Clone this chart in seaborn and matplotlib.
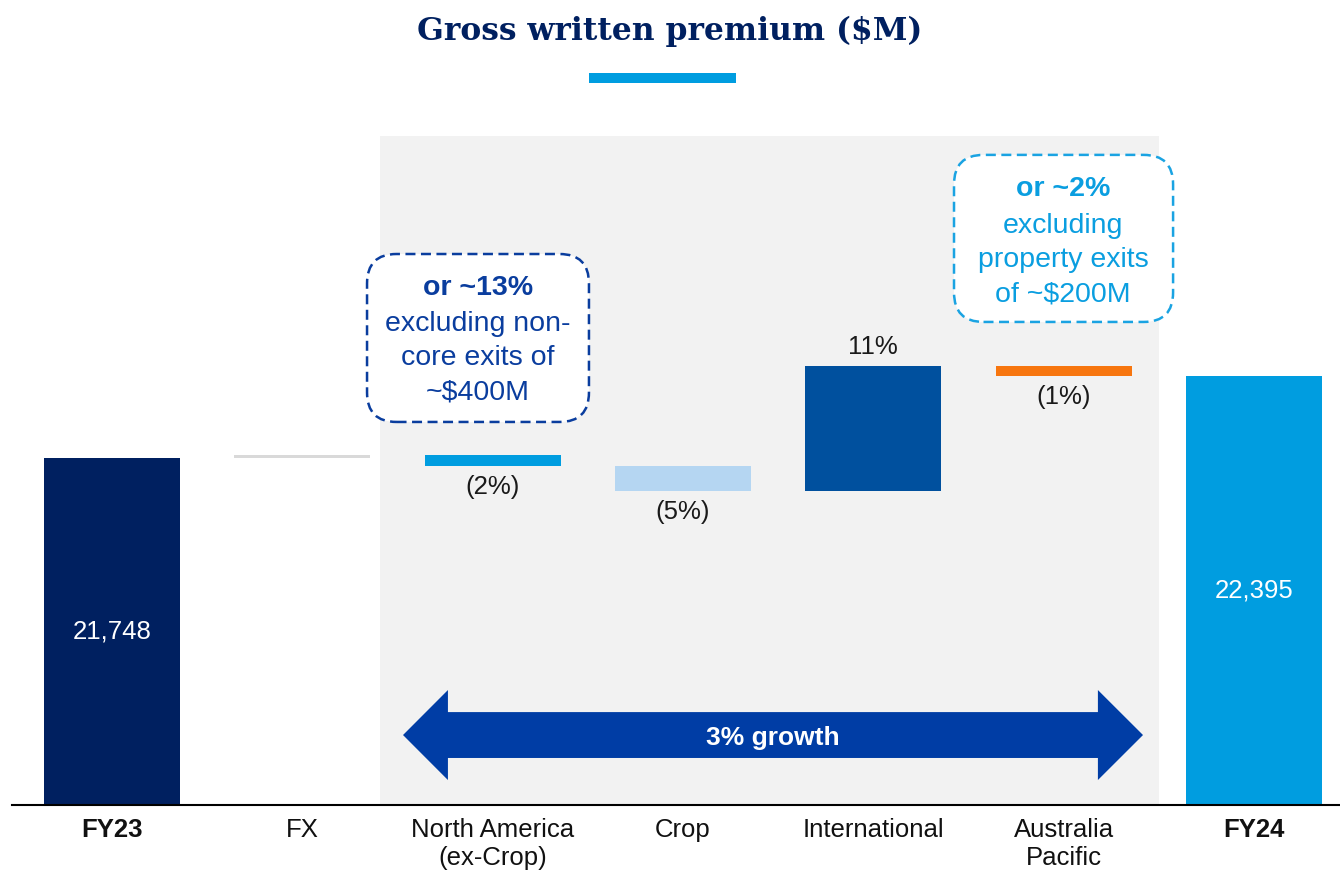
import numpy as np
import pandas as pd
import seaborn as sns
import matplotlib.pyplot as plt
from matplotlib.patches import FancyBboxPatch, Polygon, Rectangle

# Data ($M); movements
steps = ["FY23", "FX", "North America\n(ex-Crop)", "Crop", "International",
         "Australia\nPacific", "FY24"]
fy23 = 21748
fy24 = 22395
movements = [24, -87, -197, 986, -79]
pct_labels = ["", "(2%)", "(5%)", "11%", "(1%)"]
total_labels = ["21,748", "22,395"]
bar_colors = ["#002060", "#d9d9d9", "#009de0", "#b5d6f2", "#00509e", "#f7760f", "#009de0"]

# waterfall geometry
levels = fy23 + np.cumsum([0] + movements)
bottoms = [0]
heights = [fy23]
for i, d in enumerate(movements):
    bottoms.append(min(levels[i], levels[i + 1]))
    heights.append(abs(d))
bottoms.append(0)
heights.append(fy24)

df = pd.DataFrame({"step": steps, "height": heights, "bottom": bottoms})

sns.set_style("white")
plt.rcParams["font.family"] = ["Liberation Sans", "DejaVu Sans"]

fig = plt.figure(figsize=(13.4, 8.72), dpi=100)
ax = fig.add_axes([12 / 1340, 67 / 872, 1328 / 1340, 669 / 872])

y0, y1 = 19010, 24288
# shaded region behind the segment movements
ax.axvspan(1.408, 5.501, color="#f2f2f2", zorder=0, lw=0)

sns.barplot(data=df, x="step", y="height", bottom=df["bottom"].to_numpy(),
            color=bar_colors[0], saturation=1, width=0.7145, errorbar=None,
            ax=ax, linewidth=0, zorder=2)
for patch, c in zip(ax.containers[-1], bar_colors):
    patch.set_facecolor(c)

ax.set_xlim(-0.5254, 6.452)
ax.set_ylim(y0, y1)

# total labels in the middle of the visible bar
for i, (val, lab) in zip([0, 6], zip([fy23, fy24], total_labels)):
    ax.text(i, (y0 + val) / 2, lab, ha="center", va="center", color="white",
            fontsize=18.5, zorder=3)

# percent labels on movements
for i, (d, lab) in enumerate(zip(movements, pct_labels), start=1):
    if not lab:
        continue
    if d < 0:
        ax.annotate(lab, (i, bottoms[i]), xytext=(0, -15), textcoords="offset points",
                    ha="center", va="center", fontsize=18.5, color="#1a1a1a")
    else:
        ax.annotate(lab, (i, bottoms[i] + heights[i]), xytext=(0, 13.5),
                    textcoords="offset points", ha="center", va="center",
                    fontsize=18.5, color="#1a1a1a")

# dashed callout boxes
dash = (0, (4, 2.2))
aspect = 1501.7
box1 = FancyBboxPatch((1.340, 22032), 1.166, 1325, boxstyle="round,pad=0,rounding_size=0.155",
                      mutation_aspect=aspect, fc="white", ec="#0a3d9e", lw=1.8, ls=dash,
                      zorder=4, clip_on=False)
ax.add_patch(box1)
ax.text(1.923, 23090, "or ~13%", ha="center", va="center", fontsize=20.5,
        fontweight="bold", color="#0a3d9e", zorder=5)
ax.text(1.923, 22535, "excluding non-\ncore exits of\n~$400M", ha="center", va="center",
        fontsize=20.5, color="#0a3d9e", linespacing=1.42, zorder=5)

box2 = FancyBboxPatch((4.424, 22821), 1.151, 1318, boxstyle="round,pad=0,rounding_size=0.155",
                      mutation_aspect=aspect, fc="white", ec="#1aa3e2", lw=1.8, ls=dash,
                      zorder=4, clip_on=False)
ax.add_patch(box2)
ax.text(4.997, 23870, "or ~2%", ha="center", va="center", fontsize=20.5,
        fontweight="bold", color="#0a9ee0", zorder=5)
ax.text(4.997, 23310, "excluding\nproperty exits\nof ~$200M", ha="center", va="center",
        fontsize=20.5, color="#0a9ee0", linespacing=1.42, zorder=5)

# double-headed growth arrow
yc, hh, sh = 19562, 355, 181
arrow = Polygon([(1.529, yc), (1.765, yc + hh), (1.765, yc + sh), (5.180, yc + sh),
                 (5.180, yc + hh), (5.417, yc), (5.180, yc - hh), (5.180, yc - sh),
                 (1.765, yc - sh), (1.765, yc - hh)],
                closed=True, fc="#003da5", ec="none", zorder=3)
ax.add_patch(arrow)
ax.text(3.473, yc - 25, "3% growth", ha="center", va="center", fontsize=19,
        fontweight="bold", color="white", zorder=4)

# axes styling
ax.set_xlabel("")
ax.set_ylabel("")
ax.set_yticks([])
ax.set_xticks(range(len(steps)))
ax.set_xticklabels(steps, fontsize=18.5, linespacing=1.2, color="#111111")
for i in (0, 6):
    ax.get_xticklabels()[i].set_fontweight("bold")
ax.tick_params(axis="x", length=0, pad=9.5)
for s in ("top", "left", "right"):
    ax.spines[s].set_visible(False)
ax.spines["bottom"].set_color("black")
ax.spines["bottom"].set_linewidth(1.5)
ax.spines["bottom"].set_zorder(5)

# title and accent bar
fig.text(0.5, 1 - 31 / 872, "Gross written premium ($M)", ha="center", va="center",
         fontsize=22.6, fontweight="bold", family="DejaVu Serif", color="#002060")
fig.patches.append(Rectangle((589 / 1340, 1 - 83 / 872), 147 / 1340, 10 / 872,
                             transform=fig.transFigure, fc="#009de0", ec="none"))

fig.savefig("out.png", dpi=100)
